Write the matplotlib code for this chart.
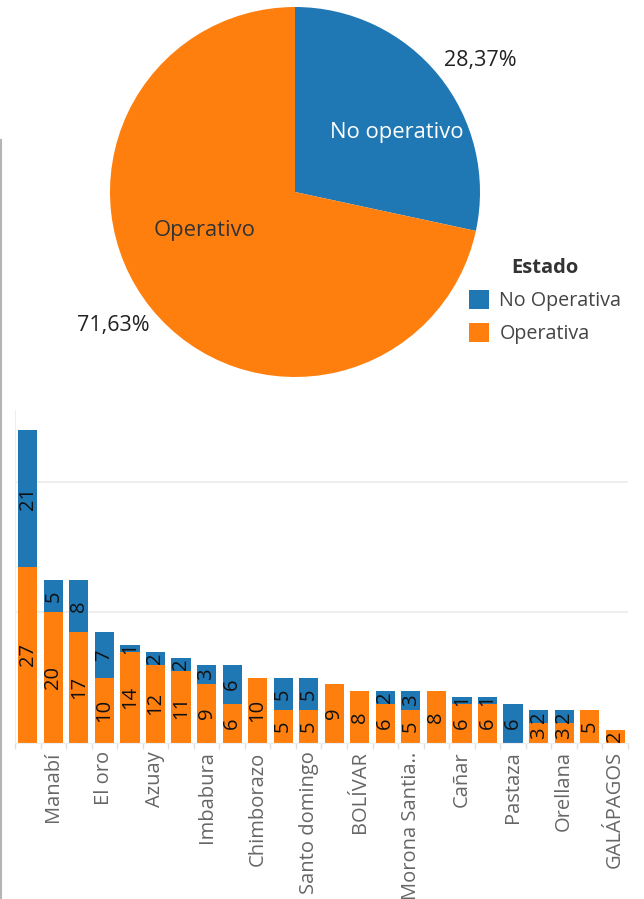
import matplotlib
matplotlib.use("Agg")
import matplotlib.pyplot as plt
from matplotlib.lines import Line2D
from matplotlib.patches import Patch
import numpy as np

plt.rcParams['font.family'] = ['Open Sans', 'DejaVu Sans']

BLUE = "#1f77b4"
ORANGE = "#ff7f0e"

# Provinces, ordered by total count; only every other name fits under the axis
provincias = ["", "Manabí", "", "El oro", "", "Azuay", "", "Imbabura",
              "", "Chimborazo", "", "Santo domingo", "", "BOLÍVAR",
              "", "Morona Santia..", "", "Cañar", "", "Pastaza",
              "", "Orellana", "", "GALÁPAGOS"]
operativa = [27, 20, 17, 10, 14, 12, 11, 9, 6, 10, 5, 5, 9, 8, 6, 5, 8, 6, 6, 0, 3, 3, 5, 2]
no_operativa = [21, 5, 8, 7, 1, 2, 2, 3, 6, 0, 5, 5, 0, 0, 2, 3, 0, 1, 1, 6, 2, 2, 0, 0]

pie_labels = ["No operativo", "Operativo"]
legend_labels = ["No Operativa", "Operativa"]
y_grid = [20, 40]

W, H = 644, 899
fig = plt.figure(figsize=(W / 100, H / 100), dpi=100)

# ---- pie chart ----
tot_no = sum(no_operativa)
tot_op = sum(operativa)
total = tot_no + tot_op
ax_pie = fig.add_axes([110 / W, 1 - 377 / H, 370 / W, 370 / H])
wedges, _ = ax_pie.pie([tot_no, tot_op], colors=[BLUE, ORANGE], startangle=90,
                       counterclock=False, radius=1.0,
                       wedgeprops=dict(linewidth=0))
ax_pie.set_xlim(-1, 1)
ax_pie.set_ylim(-1, 1)
ax_pie.set_aspect("equal")
ax_pie.axis("off")

pct_no = 100 * tot_no / total
pct_op = 100 * tot_op / total
ax_pie.text(0.55, 0.32, pie_labels[0], color="white", fontsize=15.8,
            ha="center", va="center")
ax_pie.text(-0.49, -0.21, pie_labels[1], color="#333333", fontsize=15.8,
            ha="center", va="center")
ax_pie.text(1.0, 0.71, f"{pct_no:.2f}%".replace(".", ","), color="#222222",
            fontsize=15.5, ha="center", va="center", clip_on=False)
ax_pie.text(-0.98, -0.72, f"{pct_op:.2f}%".replace(".", ","), color="#222222",
            fontsize=15.5, ha="center", va="center", clip_on=False)

# legend
handles = [Patch(facecolor=BLUE, edgecolor="none"),
           Patch(facecolor=ORANGE, edgecolor="none")]
leg = fig.legend(handles, legend_labels, title="Estado",
                 loc="upper left", bbox_to_anchor=(453 / W, 1 - 242 / H),
                 frameon=False, fontsize=14.2, title_fontsize=14.5,
                 handlelength=1.05, handleheight=1.1, handletextpad=0.5,
                 labelspacing=0.6, labelcolor="#444444", borderpad=0.3)
leg.get_title().set_fontweight("bold")
leg.get_title().set_color("#333333")

# ---- stacked bar chart ----
ax = fig.add_axes([15 / W, 1 - 743 / H, 613 / W, 333 / H])
x = np.arange(len(provincias))
ax.bar(x, operativa, width=0.75, color=ORANGE, zorder=2)
ax.bar(x, no_operativa, width=0.75, bottom=operativa, color=BLUE, zorder=2)

for xi, op, no in zip(x, operativa, no_operativa):
    if op > 0:
        ax.text(xi, op / 2, str(op), rotation=90, ha="center", va="center",
                fontsize=14.5, color="#111111", zorder=3)
    if no > 0:
        ax.text(xi, op + no / 2, str(no), rotation=90, ha="center", va="center",
                fontsize=14.5, color="#111111", zorder=3)

ax.set_xlim(-0.5, len(provincias) - 0.5)
ax.set_ylim(0, 51)
for g in y_grid:
    ax.axhline(g, color="#ebebeb", linewidth=1.2, zorder=1)
ax.set_yticks([])
ax.set_xticks(x)
ax.set_xticklabels(provincias, rotation=90, fontsize=14.5, color="#666666")
ax.tick_params(axis="x", length=0, pad=6)
ax.set_xticks(np.arange(-0.5, len(provincias), 1), minor=True)
ax.tick_params(axis="x", which="minor", length=4, color="#e0e0e0", width=1)
for side in ["top", "right"]:
    ax.spines[side].set_visible(False)
ax.spines["left"].set_color("#eeeeee")
ax.spines["bottom"].set_color("#eeeeee")

# divider on the left edge
fig.add_artist(Line2D([1 / W, 1 / W], [0, 1 - 140 / H], color="#b5b5b5",
                      linewidth=1.5, transform=fig.transFigure))

fig.savefig("out.png", dpi=100, facecolor="white")
